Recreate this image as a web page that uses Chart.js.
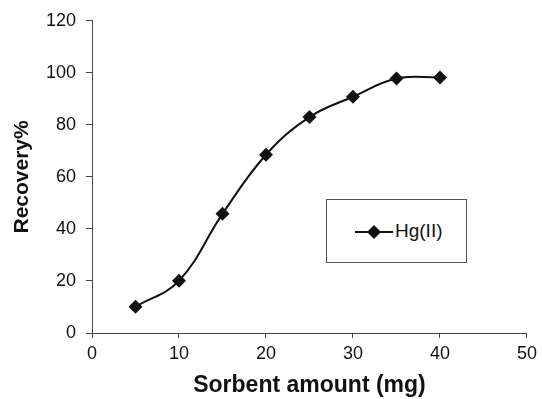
<!DOCTYPE html>
<html>
<head>
<meta charset="utf-8">
<script src="https://cdn.jsdelivr.net/npm/chart.js@4"></script>
<style>
  html, body { margin: 0; padding: 0; background: #fff; }
  #wrap { position: relative; width: 542px; height: 399px; }
  #legend {
    position: absolute; left: 326px; top: 199px; width: 141px; height: 64px;
    border: 1px solid #555; background: #fff; box-sizing: border-box;
    font-family: "Liberation Sans", Arial, sans-serif; font-size: 19px; color: #111;
  }
  #legend svg { position: absolute; left: 27px; top: 24px; }
  #legend span { position: absolute; left: 68px; top: 20px; }
</style>
</head>
<body>
<div id="wrap">
  <canvas id="chart" width="542" height="399"></canvas>
  <div id="legend">
    <svg width="40" height="16"><line x1="1" y1="8" x2="39" y2="8" stroke="#111" stroke-width="2"/><polygon points="20,1 27,8 20,15 13,8" fill="#111"/></svg>
    <span>Hg(II)</span>
  </div>
</div>
<script>
const sorbentAmount = [5, 10, 15, 20, 25, 30, 35, 40];
const recovery = [10.1, 20.1, 45.8, 68.5, 83, 90.8, 97.8, 98.2];
const seriesName = 'Hg(II)';

const font = "'Liberation Sans', Arial, sans-serif";

new Chart(document.getElementById('chart'), {
    type: 'line',
    data: {
        datasets: [{
            label: seriesName,
            data: sorbentAmount.map((x, i) => ({ x: x, y: recovery[i] })),
            borderColor: '#111',
            backgroundColor: '#111',
            borderWidth: 2,
            tension: 0.4,
            fill: false,
            pointStyle: 'rectRot',
            pointRadius: 7,
            pointBorderWidth: 0,
        }]
    },
    options: {
        responsive: false,
        animation: false,
        layout: { padding: { top: 15, right: 14, bottom: 0, left: 4 } },
        plugins: {
            legend: { display: false },
            tooltip: { enabled: false },
        },
        scales: {
            x: {
                type: 'linear',
                min: 0, max: 50,
                ticks: { stepSize: 10, color: '#111', font: { family: font, size: 18 }, padding: 5 },
                grid: { drawOnChartArea: false, tickLength: 5, color: '#444', tickColor: '#444' },
                border: { color: '#444', width: 1 },
                title: {
                    display: true, text: 'Sorbent amount (mg)', color: '#111',
                    font: { family: font, size: 23, weight: 'bold' }, padding: { top: 2, bottom: 0 }
                },
                afterFit: s => { s.height = 66; }
            },
            y: {
                min: 0, max: 120,
                ticks: { stepSize: 20, color: '#111', font: { family: font, size: 18 }, padding: 10 },
                grid: { drawOnChartArea: false, tickLength: 6, color: '#444', tickColor: '#444' },
                border: { color: '#444', width: 1 },
                title: {
                    display: true, text: 'Recovery%', color: '#111',
                    font: { family: font, size: 21, weight: 'bold' }, padding: { top: 6, bottom: 10 }
                },
                afterFit: s => { s.width = 88; }
            }
        }
    }
});
</script>
</body>
</html>
